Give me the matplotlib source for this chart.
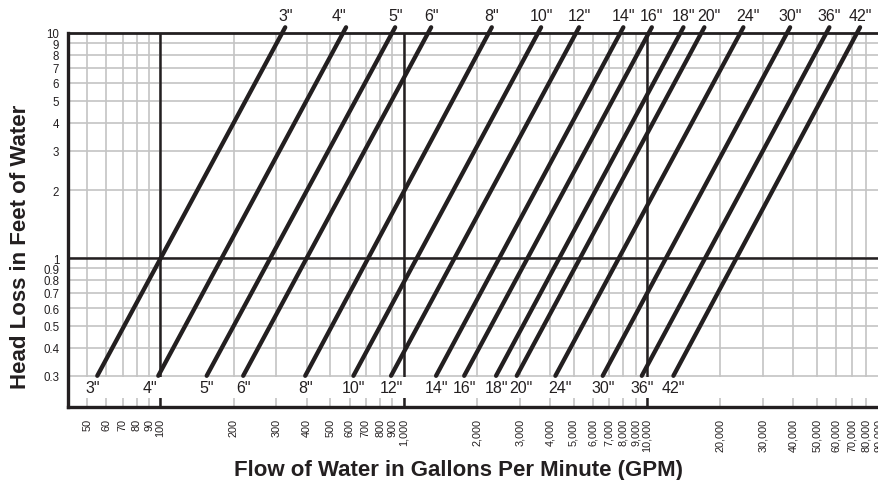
import numpy as np
import matplotlib.pyplot as plt

plt.rcParams['font.family'] = ['Liberation Sans', 'DejaVu Sans']

# Pipe sizes and the flow (GPM) at the two ends of each friction line
sizes = ['3"', '4"', '5"', '6"', '8"', '10"', '12"', '14"', '16"', '18"', '20"',
         '24"', '30"', '36"', '42"']
flow_low = [55, 98, 155, 219, 394, 622, 888, 1360, 1775, 2400, 2920, 4210,
            6590, 9540, 12870]
flow_high = [326, 580, 923, 1298, 2305, 3676, 5268, 8010, 10490, 14150, 17250,
             24960, 38850, 56350, 75340]
head_low = 0.3
head_high = 10.6

x_ticks = [50, 60, 70, 80, 90, 100, 200, 300, 400, 500, 600, 700, 800, 900,
           1000, 2000, 3000, 4000, 5000, 6000, 7000, 8000, 9000, 10000,
           20000, 30000, 40000, 50000, 60000, 70000, 80000, 90000]
y_ticks = [0.3, 0.4, 0.5, 0.6, 0.7, 0.8, 0.9, 1, 2, 3, 4, 5, 6, 7, 8, 9, 10]
y_labels = ['0.3', '0.4', '0.5', '0.6', '0.7', '0.8', '0.9', '1', '2', '3', '4',
            '5', '6', '7', '8', '9', '10']

ink = '#231f20'
grey = '#c4c4c4'

# small sideways nudges (points) so neighbouring size labels don't collide
low_nudge = {'3"': -3, '4"': -6, '20"': 3, '24"': 3}
top_nudge = {'4"': -5, '20"': 3.5, '24"': 3}

fig = plt.figure(figsize=(8.79, 4.81), dpi=100)
ax = fig.add_axes([68.3 / 879, 73 / 481, 1 - 68.3 / 879, 374 / 481])
ax.set_xscale('log')
ax.set_yscale('log')
ax.set_xlim(41.8, 90150)
ax.set_ylim(0.218, 10)

ax.set_xticks(x_ticks)
ax.set_xticklabels([f'{v:,}' for v in x_ticks], rotation=90, fontsize=7.8,
                   color=ink, va='top')
ax.set_yticks(y_ticks)
ax.set_yticklabels(y_labels, fontsize=8.3, color=ink)
ax.minorticks_off()
ax.tick_params(axis='x', length=0, pad=8)
ax.tick_params(axis='y', length=0, pad=6.5)
ax.grid(True, color=grey, lw=1.2, zorder=0.5)
ax.set_axisbelow(True)

# heavy decade lines
for xv in [100, 1000, 10000]:
    ax.axvline(xv, color=ink, lw=1.8, zorder=1.5)
ax.axhline(1, color=ink, lw=1.8, zorder=1.5)

# white band behind the lower labels
ax.axhspan(0.2385, 0.295, color='white', lw=0, zorder=2)

ax.spines['right'].set_visible(False)
ax.spines['left'].set_linewidth(2.4)
ax.spines['bottom'].set_linewidth(2.4)
ax.spines['top'].set_linewidth(2.0)
for s in ['left', 'bottom', 'top']:
    ax.spines[s].set_color(ink)
    ax.spines[s].set_zorder(5)

for name, q0, q1 in zip(sizes, flow_low, flow_high):
    ax.plot([q0, q1], [head_low, head_high], color=ink, lw=3.1,
            solid_capstyle='round', clip_on=False, zorder=3)
    ax.annotate(name, (q1, head_high), xytext=(top_nudge.get(name, 0), 8.3),
                textcoords='offset points', ha='center', va='center',
                fontsize=11.5, color=ink, annotation_clip=False, zorder=4)
    ax.annotate(name, (q0, head_low), xytext=(low_nudge.get(name, 0), -8.6),
                textcoords='offset points', ha='center', va='center',
                fontsize=11.5, color=ink, annotation_clip=False, zorder=4)

fig.text(21 / 879, 1 - 247 / 481, 'Head Loss in Feet of Water', rotation=90,
         ha='center', va='center', fontsize=16, fontweight='bold', color=ink)
fig.text(459 / 879, 1 - 476 / 481, 'Flow of Water in Gallons Per Minute (GPM)',
         ha='center', va='baseline', fontsize=16, fontweight='bold', color=ink)

fig.savefig('out.png', dpi=100)
